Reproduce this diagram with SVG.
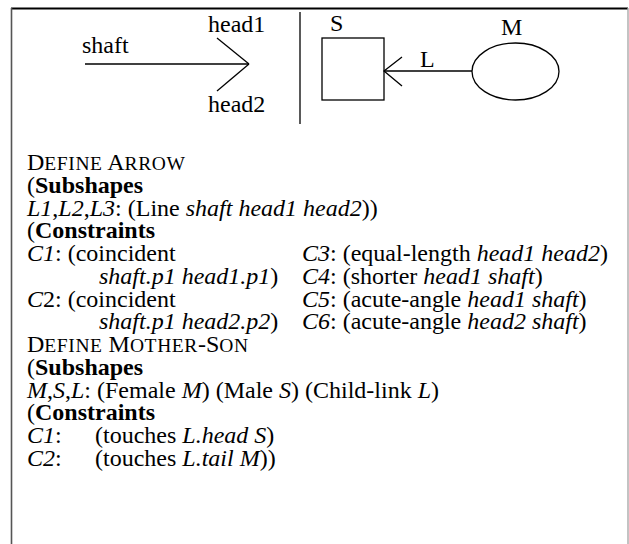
<svg xmlns="http://www.w3.org/2000/svg" width="629" height="544" viewBox="0 0 629 544">
<style>
text{font-family:'Liberation Serif','Times New Roman',serif;font-size:24px;fill:#000}
.i{font-style:italic}
.b{font-weight:bold}
.sc{font-size:19.5px;letter-spacing:0.6px}
.ln{stroke:#000;stroke-width:1.3;fill:none}
</style>
<rect x="0" y="0" width="629" height="544" fill="#fff"/>
<g id="frame">
<line x1="11" y1="8.5" x2="628" y2="8.5" stroke="#000" stroke-width="1.8"/>
<line x1="11.5" y1="8" x2="11.5" y2="544" stroke="#555" stroke-width="1.6"/>
<line x1="628" y1="8" x2="628" y2="544" stroke="#aaa" stroke-width="1.4"/>
</g>
<g id="arrow-figure">
<line class="ln" x1="85" y1="64" x2="249" y2="64"/>
<line class="ln" x1="217" y1="38" x2="249" y2="64"/>
<line class="ln" x1="217" y1="91" x2="249" y2="64"/>
<text x="82" y="53">shaft</text>
<text x="208" y="32">head1</text>
<text x="208" y="112">head2</text>
</g>
<g id="divider"><line class="ln" x1="300" y1="12" x2="300" y2="124"/></g>
<g id="node-S">
<rect class="ln" x="322" y="38" width="62" height="62"/>
<text x="330" y="31">S</text>
</g>
<g id="node-M">
<ellipse class="ln" cx="515.5" cy="71.5" rx="43.5" ry="28.5"/>
<text x="501" y="35">M</text>
</g>
<g id="connectors">
<line class="ln" x1="384" y1="71" x2="472" y2="71"/>
<polyline class="ln" points="402,57 384,71 402,86"/>
<text x="420" y="67">L</text>
</g>
<g id="definitions">
<text x="27" y="170">D<tspan class="sc">EFINE</tspan> A<tspan class="sc">RROW</tspan></text>
<text x="27" y="192.8">(<tspan class="b">Subshapes</tspan></text>
<text x="27" y="215.5"><tspan class="i">L1</tspan>,<tspan class="i">L2</tspan>,<tspan class="i">L3</tspan>: (Line <tspan class="i">shaft head1 head2</tspan>))</text>
<text x="27" y="238.3">(<tspan class="b">Constraints</tspan></text>
<text x="27" y="261"><tspan class="i">C1</tspan>: (coincident</text>
<text x="99" y="283.8"><tspan class="i">shaft.p1 head1.p1</tspan>)</text>
<text x="27" y="306.5"><tspan class="i">C</tspan>2: (coincident</text>
<text x="99" y="329.3"><tspan class="i">shaft.p1 head2.p2</tspan>)</text>
<text x="302" y="261"><tspan class="i">C3</tspan>: (equal-length <tspan class="i">head1 head2</tspan>)</text>
<text x="302" y="283.8"><tspan class="i">C4</tspan>: (shorter <tspan class="i">head1 shaft</tspan>)</text>
<text x="302" y="306.5"><tspan class="i">C5</tspan>: (acute-angle <tspan class="i">head1 shaft</tspan>)</text>
<text x="302" y="329.3"><tspan class="i">C6</tspan>: (acute-angle <tspan class="i">head2 shaft</tspan>)</text>
<text x="27" y="352">D<tspan class="sc">EFINE</tspan> M<tspan class="sc">OTHER</tspan>-S<tspan class="sc">ON</tspan></text>
<text x="27" y="374.8">(<tspan class="b">Subshapes</tspan></text>
<text x="27" y="397.5"><tspan class="i">M</tspan>,<tspan class="i">S</tspan>,<tspan class="i">L</tspan>: (Female <tspan class="i">M</tspan>) (Male <tspan class="i">S</tspan>) (Child-link <tspan class="i">L</tspan>)</text>
<text x="27" y="420.3">(<tspan class="b">Constraints</tspan></text>
<text x="27" y="443"><tspan class="i">C1</tspan>:</text>
<text x="95" y="443">(touches <tspan class="i">L.head S</tspan>)</text>
<text x="27" y="465.8"><tspan class="i">C2</tspan>:</text>
<text x="95" y="465.8">(touches <tspan class="i">L.tail M</tspan>))</text>
</g>
</svg>
